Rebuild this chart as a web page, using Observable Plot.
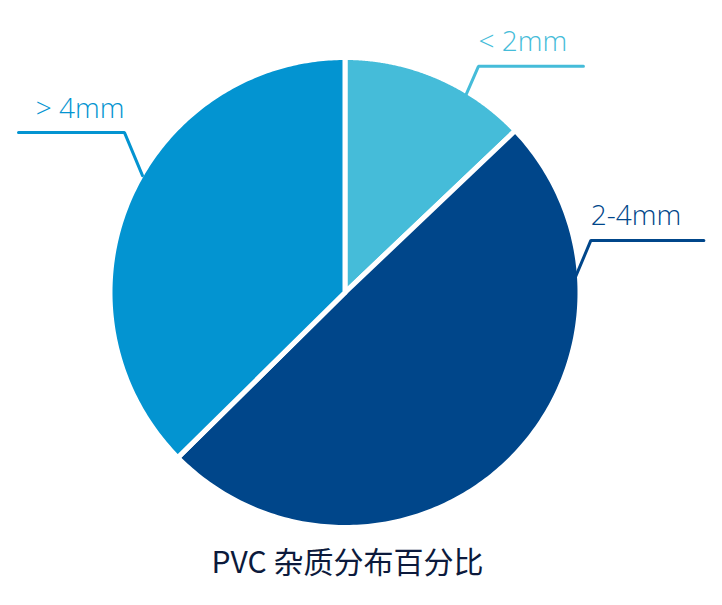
<!DOCTYPE html>
<html><head><meta charset="utf-8">
<script src="https://cdn.jsdelivr.net/npm/d3@7"></script>
<script src="https://cdn.jsdelivr.net/npm/@observablehq/plot@0.6"></script>
<style>body{margin:0;background:#fff;}</style>
</head><body><div id="chart"></div>
<script>
// ---- data ----
const categories = ["< 2mm", "2-4mm", "> 4mm"];
const shares = [12.9, 49.7, 37.4];
const colors = ["#45bcd9", "#00468a", "#0394d1"];
const title = "PVC 杂质分布百分比";

// ---- layout (pixels) ----
const W = 722, H = 605;
const cx = 344.5, cy = 292, R = 235;   // R: px per unit of the x/y scales
const labelLayout = [
  {angle: 31.6, r: 0.97, elbow: [14, -32], length: 105},
  {angle: 86.5, r: 0.98, elbow: [16, -38], length: 113},
  {angle: 300,  r: 0.995, elbow: [-18, -43], length: -106}
];

// ---- sector outlines from d3.pie angles ----
const arcs = d3.pie().sort(null).value(d => d)(shares);
const outline = [];
arcs.forEach((a, i) => {
  const n = 200;
  outline.push({c: categories[i], x: 0, y: 0});
  for (let k = 0; k <= n; k++) {
    const t = a.startAngle + (a.endAngle - a.startAngle) * k / n;
    outline.push({c: categories[i], x: Math.sin(t), y: Math.cos(t)});
  }
  outline.push({c: categories[i], x: 0, y: 0});
});

// ---- leader lines and labels ----
const leaders = [], labels = [];
labelLayout.forEach((L, i) => {
  const t = L.angle * Math.PI / 180;
  const p0 = [L.r * Math.sin(t), L.r * Math.cos(t)];
  const p1 = [p0[0] + L.elbow[0] / R, p0[1] - L.elbow[1] / R];
  const p2 = [p1[0] + L.length / R, p1[1]];
  [p0, p1, p2].forEach(p => leaders.push({c: categories[i], x: p[0], y: p[1]}));
  labels.push({c: categories[i], x: p1[0], y: p1[1] + 15 / R, anchor: L.length > 0 ? "start" : "end"});
});

const plot = Plot.plot({
  width: W, height: H,
  marginLeft: cx - R, marginRight: W - (cx + R),
  marginTop: cy - R, marginBottom: H - (cy + R),
  x: {domain: [-1, 1], axis: null},
  y: {domain: [-1, 1], axis: null},
  color: {domain: categories, range: colors},
  style: {background: "#fff"},
  marks: [
    Plot.line(outline, {x: "x", y: "y", z: "c", fill: "c", stroke: "#fff", strokeWidth: 5, curve: "linear"}),
    Plot.line(leaders, {x: "x", y: "y", z: "c", stroke: "c", strokeWidth: 3, strokeLinejoin: "miter", curve: "linear"}),
    Plot.text(labels.filter(d => d.anchor === "start"), {x: "x", y: "y", text: "c", fill: "c", textAnchor: "start", lineAnchor: "bottom",
      fontSize: 28, fontWeight: 300, fontFamily: "Open Sans"}),
    Plot.text(labels.filter(d => d.anchor === "end"), {x: "x", y: "y", text: "c", fill: "c", textAnchor: "end", lineAnchor: "bottom",
      fontSize: 28, fontWeight: 300, fontFamily: "Open Sans"}),
    Plot.text([title], {x: () => (347 - cx) / R, y: () => (cy - 572) / R, text: d => d, fill: "#0c1a3c", textAnchor: "middle", lineAnchor: "bottom",
      fontSize: 30, fontWeight: 400, fontFamily: "Noto Sans CJK SC"})
  ]
});
document.getElementById("chart").appendChild(plot);
</script>
</body></html>
